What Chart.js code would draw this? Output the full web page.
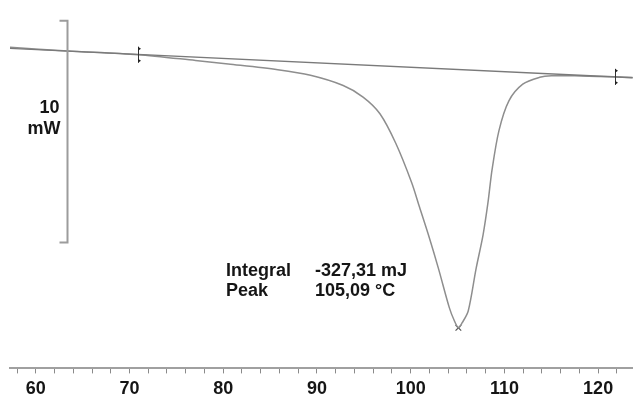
<!DOCTYPE html>
<html>
<head>
<meta charset="utf-8">
<script src="https://cdn.jsdelivr.net/npm/chart.js@4/dist/chart.umd.min.js"></script>
<style>
  html, body { margin: 0; padding: 0; background: #fff; }
  #wrap { width: 638px; height: 397px; }
</style>
</head>
<body>
<div id="wrap"><canvas id="dsc" width="638" height="397"></canvas></div>
<script>
// DSC-Kurve: Temperatur (°C) gegen Wärmestrom (mW)
const temps = [57.25, 63.39, 70.90, 77.04, 80.53, 85.82, 89.31, 92.80, 94.92, 96.72,
  98.41, 100.11, 100.95, 101.90, 102.96, 104.13, 104.66, 105.09, 105.50, 106.14,
  106.98, 107.72, 108.25, 108.68, 109.42, 110.48, 111.96, 113.76, 115.03, 118.10,
  121.80, 123.70];
const heatFlow = [0.00, -0.16, -0.33, -0.59, -0.75, -1.01, -1.26, -1.72, -2.24, -2.99,
  -4.32, -6.10, -7.21, -8.46, -9.96, -11.74, -12.32, -12.64, -12.41, -11.88,
  -9.97, -8.46, -6.99, -5.52, -3.75, -2.41, -1.66, -1.35, -1.28, -1.29,
  -1.33, -1.36];

// Integrationsgrenzen und Basislinie
const limitT = [70.90, 121.80];
const limitHF = [-0.33, -1.33];
const baseT = [57.25, 123.70];
const baseHF = [-0.05, -1.37];

// Peak
const peakT = 105.09;
const peakHF = -12.64;

// Achse und Beschriftungen
const xTicks = [58, 60, 62, 64, 66, 68, 70, 72, 74, 76, 78, 80, 82, 84, 86, 88, 90,
  92, 94, 96, 98, 100, 102, 104, 106, 108, 110, 112, 114, 116, 118, 120, 122];
const resultLabels = ['Integral', 'Peak'];
const resultValues = ['-327,31 mJ', '105,09 °C'];
const scaleBarLabel = ['10', 'mW'];
const scaleBar = { t: 63.3, top: 1.2, span: 10 };

const FONT = '"Liberation Sans", Arial, sans-serif';

const toXY = (xs, ys) => xs.map((x, i) => ({ x: x, y: ys[i] }));

// Skalenbalken, Grenzmarken und Ergebnistext
const overlay = {
  id: 'overlay',
  afterDatasetsDraw(chart) {
    const ctx = chart.ctx;
    const xs = chart.scales.x;
    const ys = chart.scales.y;
    ctx.save();

    // 10 mW Balken
    const bx = Math.round(xs.getPixelForValue(scaleBar.t)) + 0.5;
    const by1 = ys.getPixelForValue(scaleBar.top);
    const by2 = ys.getPixelForValue(scaleBar.top - scaleBar.span);
    ctx.strokeStyle = '#9c9c9c';
    ctx.lineWidth = 2;
    ctx.beginPath();
    ctx.moveTo(bx - 8, by1);
    ctx.lineTo(bx, by1);
    ctx.lineTo(bx, by2);
    ctx.lineTo(bx - 8, by2);
    ctx.stroke();

    ctx.fillStyle = '#151515';
    ctx.font = 'bold 18px ' + FONT;
    ctx.textAlign = 'right';
    ctx.textBaseline = 'alphabetic';
    ctx.fillText(scaleBarLabel[0], bx - 8, 113);
    ctx.fillText(scaleBarLabel[1], bx - 7, 134);

    // Integrationsgrenzen
    ctx.fillStyle = '#222';
    ctx.strokeStyle = '#333';
    ctx.lineWidth = 1;
    limitT.forEach((t, i) => {
      const px = Math.round(xs.getPixelForValue(t)) + 0.5;
      const py = ys.getPixelForValue(limitHF[i]);
      ctx.beginPath();
      ctx.moveTo(px, py - 8);
      ctx.lineTo(px, py + 8);
      ctx.stroke();
      ctx.beginPath();
      ctx.moveTo(px - 0.5, py - 8);
      ctx.lineTo(px + 2.5, py - 6);
      ctx.lineTo(px - 0.5, py - 4);
      ctx.fill();
      ctx.beginPath();
      ctx.moveTo(px - 0.5, py + 8);
      ctx.lineTo(px + 2.5, py + 6);
      ctx.lineTo(px - 0.5, py + 4);
      ctx.fill();
    });

    // Ergebnistext
    ctx.fillStyle = '#151515';
    ctx.font = 'bold 18px ' + FONT;
    ctx.textAlign = 'left';
    resultLabels.forEach((lbl, i) => {
      ctx.fillText(lbl, 226, 276 + i * 20);
      ctx.fillText(resultValues[i], 315, 276 + i * 20);
    });
    ctx.restore();
  }
};

new Chart(document.getElementById('dsc'), {
  type: 'scatter',
  data: {
    datasets: [
      {
        label: 'Basislinie',
        data: toXY(baseT, baseHF),
        showLine: true,
        borderColor: '#7a7a7a',
        borderWidth: 1.3,
        pointRadius: 0
      },
      {
        label: 'DSC',
        data: toXY(temps, heatFlow),
        showLine: true,
        borderColor: '#8e8e8e',
        borderWidth: 1.5,
        tension: 0.3,
        pointRadius: 0
      },
      {
        label: 'Peak',
        data: [{ x: peakT, y: peakHF }],
        pointStyle: 'crossRot',
        pointRadius: 4,
        borderColor: '#555',
        borderWidth: 1.2
      }
    ]
  },
  options: {
    responsive: false,
    devicePixelRatio: 1,
    animation: false,
    events: [],
    layout: { padding: { left: 10, right: 0, top: 0, bottom: -7.7 } },
    plugins: {
      legend: { display: false },
      tooltip: { enabled: false }
    },
    scales: {
      x: {
        type: 'linear',
        min: baseT[0],
        max: baseT[1],
        afterBuildTicks: (axis) => { axis.ticks = xTicks.map(v => ({ value: v })); },
        border: { display: true, color: '#a0a0a0', width: 2 },
        grid: {
          display: true,
          drawOnChartArea: false,
          tickLength: 5,
          tickColor: '#8a8a8a',
          tickWidth: 1
        },
        ticks: {
          autoSkip: false,
          maxRotation: 0,
          padding: 7,
          color: '#151515',
          font: { family: FONT, size: 18, weight: 'bold', lineHeight: 0.96 },
          callback: (v) => (v % 10 === 0 ? String(v) : '')
        }
      },
      y: {
        display: false,
        min: -14.47,
        max: 1.9
      }
    }
  },
  plugins: [overlay]
});
</script>
</body>
</html>
